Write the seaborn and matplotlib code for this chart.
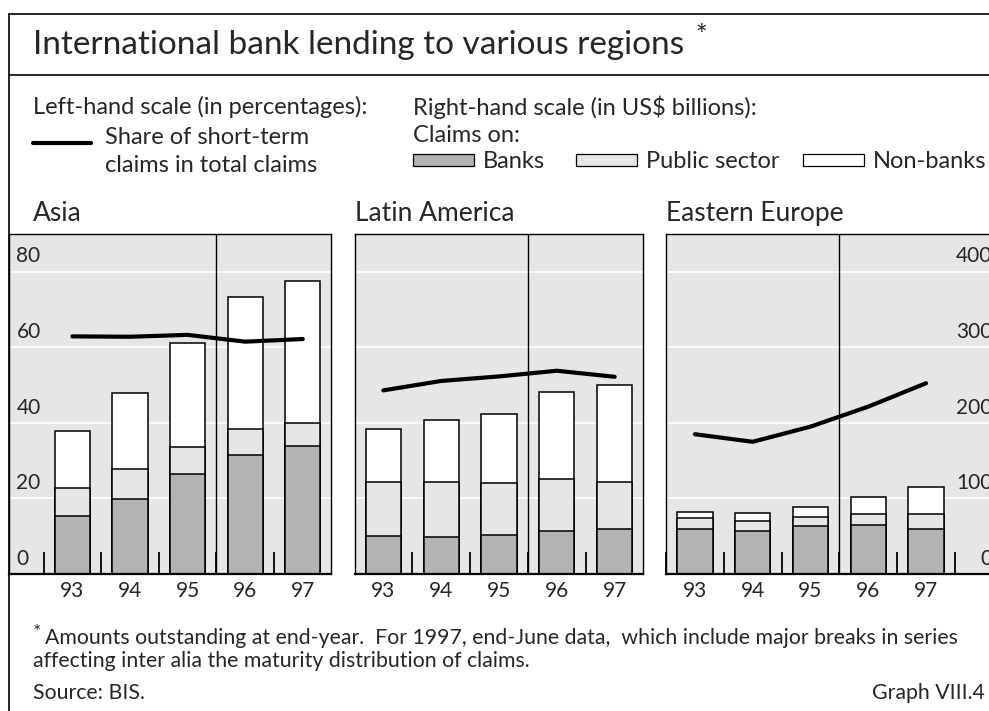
import numpy as np
import matplotlib
matplotlib.use("Agg")
import matplotlib.pyplot as plt
from matplotlib.lines import Line2D
from matplotlib.patches import Rectangle
import seaborn as sns

sns.set_style("white")
plt.rcParams['font.family'] = ['Lato', 'DejaVu Sans']

years = ['93', '94', '95', '96', '97']
regions = ['Asia', 'Latin America', 'Eastern Europe']

# claims in US$ billions (right-hand scale)
banks = {'Asia': [77, 99, 132, 158, 170],
         'Latin America': [50, 49, 52, 57, 59],
         'Eastern Europe': [60, 57, 63, 65, 60]}
public = {'Asia': [37, 40, 36, 34, 30],
          'Latin America': [72, 73, 68, 69, 63],
          'Eastern Europe': [14, 13, 13, 15, 19]}
nonbanks = {'Asia': [75, 101, 138, 174, 188],
            'Latin America': [70, 82, 92, 115, 128],
            'Eastern Europe': [8, 11, 13, 22, 36]}
# share of short-term claims in total claims, % (left-hand scale)
share = {'Asia': [62.9, 62.8, 63.3, 61.5, 62.2],
         'Latin America': [48.6, 51.1, 52.3, 53.8, 52.2],
         'Eastern Europe': [37.0, 35.0, 39.0, 44.3, 50.5]}

left_ticks = [0, 20, 40, 60, 80]
right_ticks = [0, 100, 200, 300, 400]

c_banks = '#b3b3b3'
c_public = '#e6e6e6'
c_non = 'white'
bg = '#e6e6e6'

W, H = 989, 711
fig = plt.figure(figsize=(W / 100, H / 100), dpi=100)

def fx(px):
    return px / W

def fy(py):
    return 1 - py / H

# panel placement in pixels: left, right, and x-limits
panels = [(9, 331, (-1.1, 4.49)),
          (355, 643, (-0.49, 4.49)),
          (666, 1004, (-0.5, 5.35))]
top_px, bot_px = 234, 574

for i, (region, (l, r, xl)) in enumerate(zip(regions, panels)):
    ax = fig.add_axes([fx(l), fy(bot_px), fx(r - l), fy(top_px) - fy(bot_px)])
    ax.set_facecolor(bg)
    ax.set_axisbelow(True)
    for v in right_ticks[1:]:
        ax.axhline(v, color='white', lw=1.2, zorder=0)

    b = np.array(banks[region])
    p = np.array(public[region])
    n = np.array(nonbanks[region])
    kw = dict(edgecolor='black', linewidth=1.1, width=0.61, saturation=1, ax=ax, order=years)
    sns.barplot(x=years, y=b + p + n, color=c_non, **kw)
    sns.barplot(x=years, y=b + p, color=c_public, **kw)
    sns.barplot(x=years, y=b, color=c_banks, **kw)

    ax.set_ylim(0, 450)
    ax.set_xlim(*xl)
    ax.set_xlabel('')
    ax.set_ylabel('')
    ax.set_yticks([])
    ax.axvline(2.5, color='black', lw=1, zorder=1)

    bounds = [k - 0.5 for k in range(len(years) + 1)]
    ax.set_xticks(bounds)
    ax.set_xticklabels([])
    ax.tick_params(axis='x', which='major', direction='in', length=16, width=1.3,
                   color='black', bottom=True)
    ax.set_xticks(range(len(years)), minor=True)
    ax.set_xticklabels(years, minor=True, fontsize=15)
    ax.tick_params(axis='x', which='minor', length=0, pad=5)

    for s in ax.spines.values():
        s.set_color('black')
        s.set_linewidth(1)
    ax.spines['bottom'].set_linewidth(1.6)

    ax2 = ax.twinx()
    sns.lineplot(x=np.arange(len(years)), y=share[region], color='black', lw=3, ax=ax2)
    ax2.set_ylim(0, 90)
    ax2.set_yticks([])
    ax2.set_ylabel('')
    ax2.set_xlim(*xl)
    for s in ax2.spines.values():
        s.set_visible(False)

    if i == 0:
        for v in left_ticks:
            ax2.text(-0.97, v + 1.4, str(v), fontsize=15, ha='left', va='bottom')
    if i == 2:
        for v in right_ticks:
            ax.text(5.15, v + 7, str(v), fontsize=15, ha='right', va='bottom')

    fig.text(fx(l + 24 if i == 0 else l), fy(214), region, fontsize=19, ha='left', va='center')

# frame
fig.add_artist(Line2D([fx(9), 1.02], [fy(14), fy(14)], color='black', lw=1.2))
fig.add_artist(Line2D([fx(9), 1.02], [fy(75), fy(75)], color='black', lw=1.2))
fig.add_artist(Line2D([fx(9), fx(9)], [fy(14), 0], color='black', lw=1.2))

title = fig.text(fx(33), fy(45), 'International bank lending to various regions',
                 fontsize=24, ha='left', va='center')
fig.text(fx(695), fy(37), '*', fontsize=20, ha='left', va='center')

# legend
fs = 17
fig.text(fx(33), fy(107), 'Left-hand scale (in percentages):', fontsize=fs, va='center')
fig.add_artist(Line2D([fx(33), fx(91)], [fy(143), fy(143)], color='black', lw=3))
fig.text(fx(105), fy(137), 'Share of short-term', fontsize=fs, va='center')
fig.text(fx(105), fy(165), 'claims in total claims', fontsize=fs, va='center')
fig.text(fx(413), fy(107), 'Right-hand scale (in US$ billions):', fontsize=fs, va='center')
fig.text(fx(413), fy(135), 'Claims on:', fontsize=fs, va='center')
for x0, col, lab in [(413, c_banks, 'Banks'), (576, c_public, 'Public sector'), (803, c_non, 'Non-banks')]:
    fig.add_artist(Rectangle((fx(x0), fy(166)), fx(61), fy(154) - fy(166),
                             facecolor=col, edgecolor='black', lw=0.9, transform=fig.transFigure))
    fig.text(fx(x0 + 70), fy(161), lab, fontsize=fs, va='center')

# footnotes
ffs = 15.3
fig.text(fx(33), fy(632), '*', fontsize=14, va='center')
fig.text(fx(45), fy(638), 'Amounts outstanding at end-year.  For 1997, end-June data,  which include major breaks in series',
         fontsize=ffs, va='center')
fig.text(fx(33), fy(661), 'affecting inter alia the maturity distribution of claims.', fontsize=ffs, va='center')
fig.text(fx(33), fy(693), 'Source: BIS.', fontsize=ffs, va='center')
fig.text(fx(985), fy(693), 'Graph VIII.4', fontsize=ffs, va='center', ha='right')

fig.savefig('out.png', dpi=100)
